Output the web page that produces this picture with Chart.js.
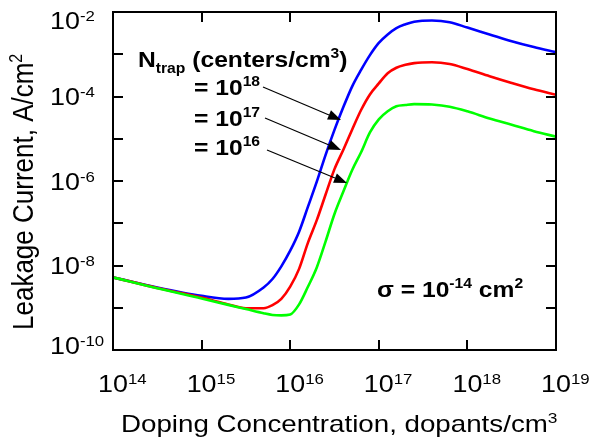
<!DOCTYPE html>
<html>
<head>
<meta charset="utf-8">
<script src="https://cdn.jsdelivr.net/npm/chart.js@4.4.1/dist/chart.umd.min.js"></script>
<style>
  html, body { margin: 0; padding: 0; background: #ffffff; }
  canvas { display: block; }
</style>
</head>
<body>
<canvas id="c" width="592" height="442"></canvas>
<script>
// ---- data ----
const doping = [1e14, 3.16e14, 1e15, 2.0e15, 3.16e15, 5.01e15, 6.31e15, 7.94e15, 1e16, 1.26e16,
  1.58e16, 2.0e16, 2.51e16, 3.16e16, 3.98e16, 5.01e16, 6.31e16, 7.94e16, 1e17, 1.26e17,
  1.58e17, 2.0e17, 2.51e17, 3.98e17, 6.31e17, 1e18, 1.78e18, 3.16e18, 5.62e18, 1e19];

const nTrap1e18 = [5.25e-9, 3.02e-9, 1.91e-9, 1.62e-9, 1.74e-9, 3.02e-9, 4.79e-9, 9.55e-9, 2.24e-8, 6.31e-8,
  2.40e-7, 9.77e-7, 4.17e-6, 1.62e-5, 5.62e-5, 1.74e-4, 4.27e-4, 9.55e-4, 1.86e-3, 2.95e-3,
  4.17e-3, 5.13e-3, 5.89e-3, 6.31e-3, 5.75e-3, 4.27e-3, 2.95e-3, 2.04e-3, 1.48e-3, 1.12e-3];

const nTrap1e17 = [5.25e-9, 2.95e-9, 1.74e-9, 1.20e-9, 9.77e-10, 9.77e-10, 1.15e-9, 1.62e-9, 3.16e-9, 8.32e-9,
  3.39e-8, 1.20e-7, 4.79e-7, 1.91e-6, 5.50e-6, 1.66e-5, 4.79e-5, 1.12e-4, 2.04e-4, 3.55e-4,
  4.79e-4, 5.62e-4, 6.17e-4, 6.46e-4, 5.89e-4, 4.47e-4, 3.02e-4, 2.09e-4, 1.48e-4, 1.10e-4];

const nTrap1e16 = [5.25e-9, 2.88e-9, 1.66e-9, 1.17e-9, 9.33e-10, 7.41e-10, 6.76e-10, 6.61e-10, 6.92e-10, 1.20e-9,
  3.09e-9, 9.12e-9, 3.72e-8, 1.66e-7, 5.62e-7, 1.82e-6, 4.79e-6, 1.41e-5, 2.88e-5, 4.47e-5,
  5.89e-5, 6.31e-5, 6.61e-5, 6.46e-5, 5.75e-5, 4.47e-5, 3.02e-5, 2.14e-5, 1.51e-5, 1.12e-5];

const xTickValues = [1e14, 1e15, 1e16, 1e17, 1e18, 1e19];
const xTickExponents = ['14', '15', '16', '17', '18', '19'];
const yTickValues = [1e-10, 1e-9, 1e-8, 1e-7, 1e-6, 1e-5, 1e-4, 1e-3, 1e-2];
const yLabelValues = [1e-10, 1e-8, 1e-6, 1e-4, 1e-2];
const yLabelExponents = ['-10', '-8', '-6', '-4', '-2'];
const trapLabels = ['18', '17', '16'];

const xTitle = 'Doping Concentration, dopants/cm';
const yTitle = 'Leakage Current, A/cm';

// ---- helpers ----
const FAM = '"Liberation Sans", Arial, Helvetica, sans-serif';
function fnt(size, bold) { return (bold ? 'bold ' : '') + size + 'px ' + FAM; }

function rich(ctx, x, y, runs, opt) {
  opt = opt || {};
  ctx.save();
  ctx.translate(x, y);
  if (opt.rot) ctx.rotate(opt.rot);
  ctx.scale(opt.sx || 1, opt.sy || 1);
  ctx.fillStyle = '#000';
  ctx.textBaseline = 'alphabetic';
  ctx.textAlign = 'left';
  let cx = 0;
  if (opt.centerFirst) {
    ctx.font = fnt(runs[0].s, runs[0].b);
    cx = -ctx.measureText(runs[0].t).width / 2;
  }
  for (const r of runs) {
    ctx.font = fnt(r.s, r.b);
    ctx.fillText(r.t, cx, r.dy || 0);
    cx += ctx.measureText(r.t).width;
  }
  ctx.restore();
}

function arrow(ctx, x1, y1, x2, y2) {
  const ang = Math.atan2(y2 - y1, x2 - x1);
  const hl = 13, hw = 5;
  const bx = x2 - hl * Math.cos(ang), by = y2 - hl * Math.sin(ang);
  ctx.save();
  ctx.strokeStyle = '#000';
  ctx.fillStyle = '#000';
  ctx.lineWidth = 1.2;
  ctx.beginPath();
  ctx.moveTo(x1, y1);
  ctx.lineTo(bx, by);
  ctx.stroke();
  ctx.beginPath();
  ctx.moveTo(x2, y2);
  ctx.lineTo(bx + hw * Math.sin(ang), by - hw * Math.cos(ang));
  ctx.lineTo(bx - hw * Math.sin(ang), by + hw * Math.cos(ang));
  ctx.closePath();
  ctx.fill();
  ctx.restore();
}

const SX = 1.12;

const decor = {
  id: 'decor',
  beforeDraw(chart) {
    const ctx = chart.ctx;
    ctx.save();
    ctx.fillStyle = '#fff';
    ctx.fillRect(0, 0, chart.width, chart.height);
    ctx.restore();
  },
  afterDraw(chart) {
    const ctx = chart.ctx;
    const a = chart.chartArea;
    const xs = chart.scales.x, ys = chart.scales.y;
    ctx.save();
    // frame
    ctx.strokeStyle = '#000';
    ctx.lineWidth = 2;
    ctx.strokeRect(a.left, a.top, a.right - a.left, a.bottom - a.top);
    // ticks (inward, all four sides)
    ctx.beginPath();
    const TL = 10;
    xTickValues.forEach(v => {
      const px = Math.round(xs.getPixelForValue(v));
      ctx.moveTo(px, a.bottom); ctx.lineTo(px, a.bottom - TL);
      ctx.moveTo(px, a.top); ctx.lineTo(px, a.top + TL);
    });
    yTickValues.forEach(v => {
      const py = Math.round(ys.getPixelForValue(v));
      ctx.moveTo(a.left, py); ctx.lineTo(a.left + TL, py);
      ctx.moveTo(a.right, py); ctx.lineTo(a.right - TL, py);
    });
    ctx.stroke();
    ctx.restore();

    // x tick labels
    xTickValues.forEach((v, i) => {
      const px = xs.getPixelForValue(v);
      rich(ctx, px, 392, [{t: '10', s: 24}, {t: xTickExponents[i], s: 15, dy: -8}], {sx: SX, centerFirst: true});
    });
    // y tick labels
    yLabelValues.forEach((v, i) => {
      const py = ys.getPixelForValue(v);
      const c = Math.min(345, Math.max(20, py));
      rich(ctx, 50, c + 8.5, [{t: '10', s: 24}, {t: yLabelExponents[i], s: 15, dy: -8}], {sx: SX});
    });
    // axis titles
    rich(ctx, 121, 432, [{t: xTitle, s: 24}, {t: '3', s: 15, dy: -9}], {sx: 1.155});
    rich(ctx, 33, 330, [{t: yTitle, s: 26}, {t: '2', s: 16, dy: -10}], {rot: -Math.PI / 2, sy: SX});

    // annotation
    rich(ctx, 138, 67, [{t: 'N', s: 22, b: true}, {t: 'trap', s: 14, b: true, dy: 6},
      {t: ' (centers/cm', s: 22, b: true}, {t: '3', s: 14, b: true, dy: -9}, {t: ')', s: 22, b: true}], {sx: SX});
    const rowY = [95, 126, 155];
    trapLabels.forEach((e, i) => {
      rich(ctx, 194, rowY[i], [{t: '= 10', s: 22, b: true}, {t: e, s: 14, b: true, dy: -9}], {sx: SX});
    });
    arrow(ctx, 263, 87, 341, 120);
    arrow(ctx, 265, 118, 341, 150);
    arrow(ctx, 267, 150, 347, 183);

    rich(ctx, 377, 297, [{t: '\u03C3 = 10', s: 22, b: true}, {t: '-14', s: 14, b: true, dy: -9},
      {t: ' cm', s: 22, b: true}, {t: '2', s: 14, b: true, dy: -9}], {sx: SX});
  }
};

const mk = (arr) => doping.map((x, i) => ({x: x, y: arr[i]}));

new Chart(document.getElementById('c'), {
  type: 'line',
  data: {
    datasets: [
      {label: 'Ntrap = 1e16', data: mk(nTrap1e16), borderColor: '#00ff00'},
      {label: 'Ntrap = 1e17', data: mk(nTrap1e17), borderColor: '#ff0000'},
      {label: 'Ntrap = 1e18', data: mk(nTrap1e18), borderColor: '#0000ff'}
    ]
  },
  options: {
    responsive: false,
    animation: false,
    devicePixelRatio: 1,
    layout: {padding: {left: 113, right: 36, top: 12, bottom: 92}},
    elements: {
      point: {radius: 0},
      line: {borderWidth: 2.6, cubicInterpolationMode: 'monotone', fill: false}
    },
    plugins: {legend: {display: false}, tooltip: {enabled: false}},
    scales: {
      x: {type: 'logarithmic', min: 1e14, max: 1e19, display: false},
      y: {type: 'logarithmic', min: 1e-10, max: 1e-2, display: false}
    }
  },
  plugins: [decor]
});
</script>
</body>
</html>
